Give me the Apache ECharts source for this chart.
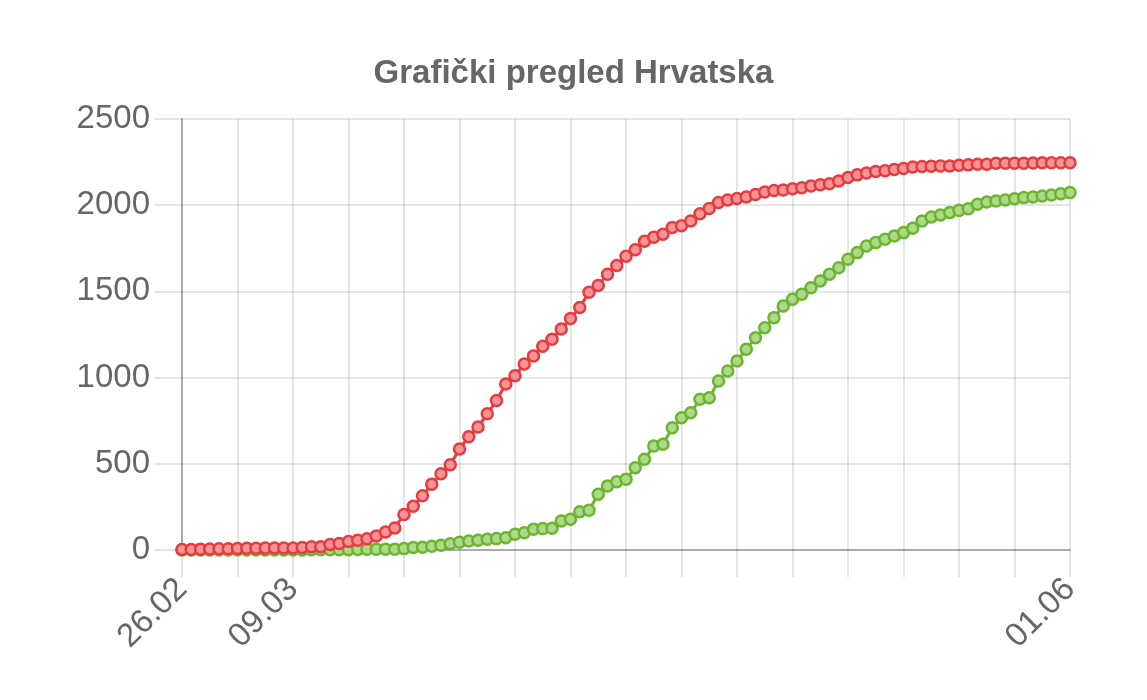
<!DOCTYPE html>
<html>
<head>
<meta charset="utf-8">
<script src="https://cdn.jsdelivr.net/npm/echarts@6/dist/echarts.min.js"></script>
<style>
html,body{margin:0;padding:0;background:#fff;}
#chart{width:1147px;height:700px;}
</style>
</head>
<body>
<div id="chart"></div>
<script>
var dates = [
'26.02','27.02','28.02','29.02',
'01.03','02.03','03.03','04.03','05.03','06.03','07.03','08.03','09.03','10.03',
'11.03','12.03','13.03','14.03','15.03','16.03','17.03','18.03','19.03','20.03',
'21.03','22.03','23.03','24.03','25.03','26.03','27.03','28.03','29.03','30.03','31.03',
'01.04','02.04','03.04','04.04','05.04','06.04','07.04','08.04','09.04','10.04',
'11.04','12.04','13.04','14.04','15.04','16.04','17.04','18.04','19.04','20.04',
'21.04','22.04','23.04','24.04','25.04','26.04','27.04','28.04','29.04','30.04',
'01.05','02.05','03.05','04.05','05.05','06.05','07.05','08.05','09.05','10.05',
'11.05','12.05','13.05','14.05','15.05','16.05','17.05','18.05','19.05','20.05',
'21.05','22.05','23.05','24.05','25.05','26.05','27.05','28.05','29.05','30.05','31.05',
'01.06'
];

var cases = [
3,3,5,6,
7,7,9,10,10,11,12,12,12,14,
19,19,32,38,49,57,65,81,105,128,
206,254,315,382,442,495,586,657,713,790,867,
963,1011,1079,1126,1182,1222,1282,1343,1407,1495,
1534,1600,1650,1704,1741,1791,1814,1832,1871,1881,
1908,1950,1981,2016,2030,2039,2047,2062,2076,2085,
2088,2096,2101,2112,2119,2125,2140,2161,2176,2187,
2196,2200,2207,2213,2221,2224,2226,2228,2228,2232,
2234,2237,2238,2243,2244,2244,2244,2245,2246,2246,2246,
2246
];

var recovered = [
0,0,0,0,
0,0,0,0,0,0,0,0,0,0,
1,1,1,1,2,3,4,5,5,5,
8,14,16,22,28,36,45,52,56,62,66,
71,91,100,120,124,126,168,178,222,230,
323,371,396,410,477,526,603,613,709,767,
796,874,883,980,1038,1096,1164,1231,1289,1347,
1415,1454,1483,1521,1560,1599,1637,1686,1725,1763,
1783,1802,1821,1841,1866,1908,1931,1943,1957,1970,
1980,2005,2018,2024,2030,2038,2044,2047,2053,2059,2067,
2073
];

var yTicks = {min: 0, max: 2500, step: 500};
var shownLabels = ['26.02', '09.03', '01.06'];
var titleText = 'Grafički pregled Hrvatska';

var FONT = '"Liberation Sans", Arial, sans-serif';
var gridColor = 'rgba(0,0,0,0.1)';
var axisColor = 'rgba(0,0,0,0.25)';

var chart = echarts.init(document.getElementById('chart'), null, {renderer: 'canvas'});
chart.setOption({
  backgroundColor: '#fff',
  animation: false,
  title: {
    text: titleText,
    left: 'center',
    top: 52,
    textStyle: {fontFamily: FONT, fontSize: 33, fontWeight: 'bold', color: '#666'}
  },
  grid: {left: 182, right: 77, top: 119, bottom: 150, containLabel: false},
  xAxis: {
    type: 'category',
    data: dates,
    boundaryGap: false,
    axisLine: {show: true, lineStyle: {color: axisColor, width: 2}},
    axisTick: {show: true, length: 27, interval: function (i) { return i % 6 === 0; }, lineStyle: {color: gridColor, width: 2}},
    splitLine: {show: true, interval: function (i) { return i % 6 === 0; }, lineStyle: {color: gridColor, width: 2}},
    axisLabel: {
      interval: function (i, v) { return shownLabels.indexOf(v) >= 0; },
      rotate: 45,
      margin: 34,
      fontFamily: FONT,
      fontSize: 33,
      color: '#666'
    }
  },
  yAxis: {
    type: 'value',
    min: yTicks.min,
    max: yTicks.max,
    interval: yTicks.step,
    axisLine: {show: true, lineStyle: {color: axisColor, width: 2}},
    axisTick: {show: true, length: 27, lineStyle: {color: gridColor, width: 2}},
    splitLine: {show: true, lineStyle: {color: gridColor, width: 2}},
    axisLabel: {
      margin: 32, fontFamily: FONT, fontSize: 33, color: '#666',
      formatter: function (v) { return String(v); }
    }
  },
  series: [
    {
      name: 'Slučajevi',
      type: 'line',
      data: cases,
      showAllSymbol: true,
      symbol: 'circle',
      symbolSize: 11,
      lineStyle: {color: '#e63b3f', width: 3},
      itemStyle: {color: '#f49496', borderColor: '#e63b3f', borderWidth: 2.5},
      z: 3
    },
    {
      name: 'Izliječeni',
      type: 'line',
      data: recovered,
      showAllSymbol: true,
      symbol: 'circle',
      symbolSize: 11,
      lineStyle: {color: '#6cb52f', width: 3},
      itemStyle: {color: '#acd98a', borderColor: '#6cb52f', borderWidth: 2.5},
      z: 2
    }
  ]
});
</script>
</body>
</html>
